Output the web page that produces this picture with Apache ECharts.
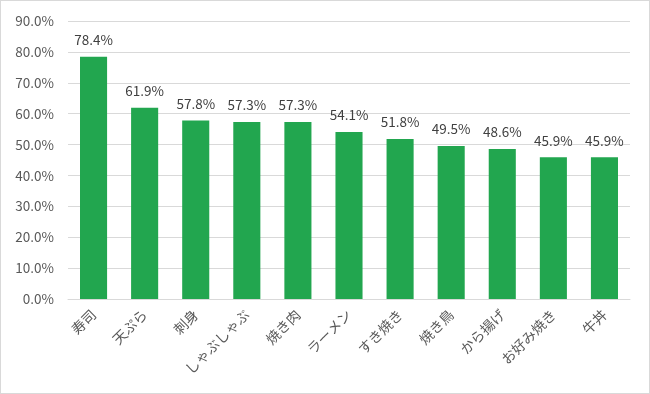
<!DOCTYPE html>
<html><head><meta charset="utf-8">
<script src="https://cdn.jsdelivr.net/npm/echarts@6/dist/echarts.min.js"></script>
<style>html,body{margin:0;padding:0;background:#fff}#c{width:650px;height:394px;box-sizing:border-box;border:1px solid #d9d9d9}</style>
</head><body><div id="c"></div>
<script>
const categories = ["寿司","天ぷら","刺身","しゃぶしゃぶ","焼き肉","ラーメン","すき焼き","焼き鳥","から揚げ","お好み焼き","牛丼"];
const values = [78.4,61.9,57.8,57.3,57.3,54.1,51.8,49.5,48.6,45.9,45.9];
const yTicks = {min:0,max:90,interval:10};
const font = '"Noto Sans CJK JP","Noto Sans",sans-serif';
const chart = echarts.init(document.getElementById('c'));
chart.setOption({
  animation:false,
  grid:{left:67,right:19,top:20,bottom:94,containLabel:false},
  xAxis:{type:'category',data:categories,
    axisLine:{lineStyle:{color:'#d9d9d9'}},axisTick:{show:false},
    axisLabel:{rotate:45,interval:0,color:'#595959',fontSize:14,fontFamily:font,margin:13}},
  yAxis:{type:'value',min:yTicks.min,max:yTicks.max,interval:yTicks.interval,
    axisLine:{show:false},axisTick:{show:false},
    splitLine:{lineStyle:{color:'#d9d9d9'}},
    axisLabel:{color:'#595959',fontSize:13.5,fontFamily:font,margin:14,formatter:v=>v.toFixed(1)+'%'}},
  series:[{type:'bar',data:values,barWidth:'53%',itemStyle:{color:'#22a64f'},
    label:{show:true,position:'top',distance:10,color:'#404040',fontSize:13.5,fontFamily:font,formatter:p=>p.value.toFixed(1)+'%'}}]
});
</script></body></html>
